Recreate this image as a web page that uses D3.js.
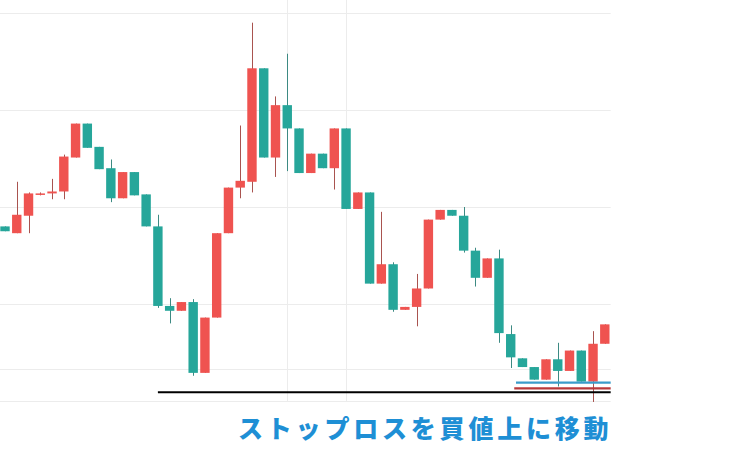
<!DOCTYPE html>
<html><head><meta charset="utf-8">
<script src="https://cdn.jsdelivr.net/npm/d3@7"></script>
<style>html,body{margin:0;padding:0;background:#fff;overflow:hidden}</style>
</head><body>
<svg id="chart" width="731" height="456"></svg>
<script>
// OHLC values (red = rising, teal = falling)
const opens  = [118.0,117.3,119.1,121.3,121.4,121.6,125.1,128.6,126.2,124.0,120.9,123.6,121.3,118.0,109.8,109.3,110.2,102.9,108.6,117.3,122.0,122.6,134.3,125.1,130.5,128.1,123.5,125.5,124.0,128.1,119.8,121.5,112.1,114.1,109.4,109.7,111.6,118.7,119.7,119.1,115.5,112.7,114.7,106.9,104.4,103.5,102.2,104.3,103.1,105.2,102.0,105.9];
const highs  = [118.0,122.6,121.5,121.5,122.9,125.4,128.6,128.6,126.2,124.9,123.6,123.6,121.3,119.2,110.6,110.2,110.5,108.6,117.3,122.0,128.4,139.0,134.3,131.4,135.8,128.1,125.5,125.5,128.1,128.1,121.5,121.5,119.5,114.3,109.7,113.1,118.7,119.7,119.7,120.0,115.8,114.7,115.6,107.8,104.4,103.5,104.3,106.0,105.2,105.2,107.2,107.9];
const lows   = [117.5,117.3,117.3,121.2,120.8,120.8,125.1,126.1,123.9,120.5,120.9,121.2,118.0,109.6,108.0,109.3,102.6,102.9,108.6,117.3,120.9,121.5,125.1,123.1,123.7,123.5,123.5,124.0,121.8,119.8,119.8,112.1,112.1,109.2,109.4,107.7,111.6,118.7,119.1,115.3,111.8,112.7,106.0,103.4,103.5,102.2,102.2,101.5,103.1,102.0,99.9,105.9];
const closes = [117.5,119.2,121.4,121.4,121.6,125.2,128.6,126.1,123.9,120.9,123.6,121.2,118.0,109.8,109.3,110.2,102.9,108.6,117.3,122.0,122.7,134.3,125.1,130.5,128.1,123.5,125.5,124.0,128.1,119.8,121.5,112.1,114.1,109.4,109.7,111.6,118.7,119.7,119.1,115.5,112.7,114.7,107.0,104.5,103.5,102.2,104.3,103.1,105.2,102.0,105.9,107.9];

const gridPrices = [100, 103.3, 110, 120, 130, 140];
const gridCandles = [24, 29];
// horizontal level lines: price, starting candle index, colour
const levelNames  = ["元の損切り", "買値", "新しい損切り"];
const levelPrices = [100.9, 101.3, 101.9];
const levelStarts = [13, 43.3, 43.45];
const levelColors = ["#000000", "#b8393b", "#3a9ccb"];
const caption = "ストップロスを買値上に移動";

const svg = d3.select("#chart");
const n = opens.length;
const x = d3.scaleLinear().domain([0, n - 1]).range([5, 604.8]);
const y = d3.scaleLinear().domain([100, 140]).range([401, 13]);
const xRight = x(n - 0.5);
const bodyW = 9.4;

// grid
svg.append("g").selectAll("line").data(gridPrices).join("line")
  .attr("x1", 0).attr("x2", xRight)
  .attr("y1", d => Math.round(y(d)) + 0.5).attr("y2", d => Math.round(y(d)) + 0.5)
  .attr("stroke", "#ececec").attr("stroke-width", 1);
svg.append("g").selectAll("line").data(gridCandles).join("line")
  .attr("x1", d => Math.round(x(d)) + 0.5).attr("x2", d => Math.round(x(d)) + 0.5)
  .attr("y1", 0).attr("y2", y(100))
  .attr("stroke", "#ececec").attr("stroke-width", 1);

const idx = d3.range(n);
const up = i => closes[i] >= opens[i];

// wicks
svg.append("g").selectAll("line").data(idx).join("line")
  .attr("x1", i => Math.round(x(i)) + 0.5).attr("x2", i => Math.round(x(i)) + 0.5)
  .attr("y1", i => y(highs[i])).attr("y2", i => y(lows[i]))
  .attr("stroke", i => up(i) ? "#a9534f" : "#3d8a83").attr("stroke-width", 1);

// bodies
svg.append("g").selectAll("rect").data(idx).join("rect")
  .attr("x", i => x(i) - bodyW / 2)
  .attr("width", bodyW)
  .attr("y", i => y(Math.max(opens[i], closes[i])))
  .attr("height", i => Math.max(1.5, Math.abs(y(opens[i]) - y(closes[i]))))
  .attr("fill", i => up(i) ? "#ef5350" : "#26a69a");

// level lines
svg.append("g").selectAll("line").data(levelPrices).join("line")
  .attr("x1", (d, k) => x(levelStarts[k])).attr("x2", xRight)
  .attr("y1", d => y(d)).attr("y2", d => y(d))
  .attr("stroke", (d, k) => levelColors[k]).attr("stroke-width", 2.2);

// caption
svg.append("text")
  .attr("x", 238).attr("y", 438)
  .attr("font-family", "'Noto Sans CJK JP', 'Noto Sans', sans-serif")
  .attr("font-weight", 900).attr("font-size", 25)
  .attr("letter-spacing", "3.8px")
  .attr("fill", "#1e8fd5")
  .text(caption);
</script>
</body></html>
